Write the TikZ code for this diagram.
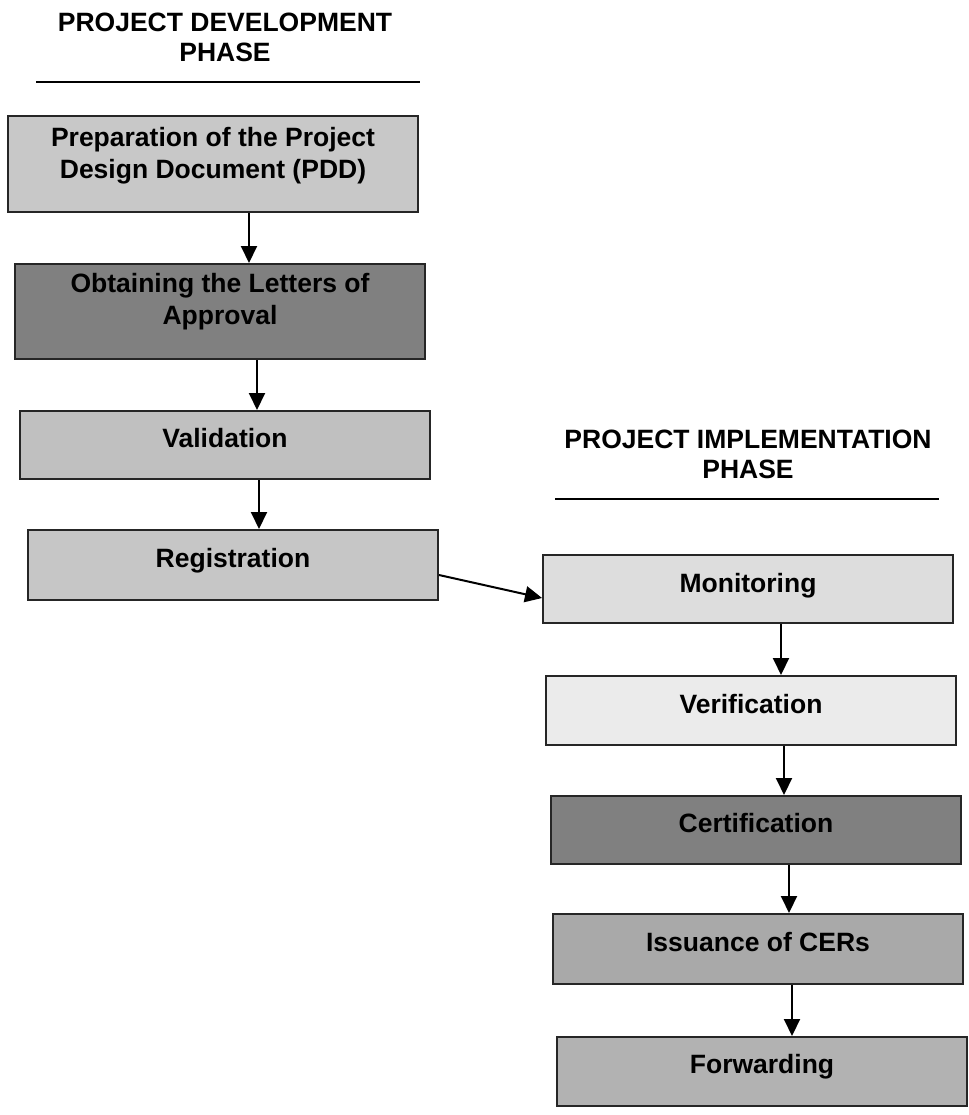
\documentclass[tikz,border=0pt]{standalone}
\usepackage{fontspec}
\setmainfont{Liberation Sans}
\usetikzlibrary{arrows.meta}
\newcommand\mydp[1]{\rule[-#1]{0pt}{#1}}
\definecolor{cpdd}{HTML}{C8C8C8}
\definecolor{cdark}{HTML}{808080}
\definecolor{cval}{HTML}{C0C0C0}
\definecolor{creg}{HTML}{C6C6C6}
\definecolor{cmon}{HTML}{DDDDDD}
\definecolor{cver}{HTML}{EBEBEB}
\definecolor{ciss}{HTML}{A9A9A9}
\definecolor{cfwd}{HTML}{B2B2B2}
\begin{document}
\begin{tikzpicture}[x=1pt,y=-1pt,
  box/.style={draw=black!85, line width=2pt, minimum width=410pt, inner sep=0pt, align=center, font=\bfseries\fontsize{26.5}{32}\selectfont},
  title/.style={align=center, font=\bfseries\fontsize{26.5}{30}\selectfont, inner sep=0pt},
  arr/.style={line width=2pt, -{Triangle[length=17pt,width=16pt]}},
  hrule/.style={line width=2pt}]
\useasboundingbox[fill=white] (0,0) rectangle (968,1115);

% titles
\node[title] (t1) at (225,37) {PROJECT DEVELOPMENT\\PHASE};
\coordinate (r1a) at (36,82);
\coordinate (r1b) at (420,82);
\draw[hrule] (r1a) -- (r1b);
\node[title] (t2) at (748,454.5) {PROJECT IMPLEMENTATION\\PHASE};
\coordinate (r2a) at (555,499);
\coordinate (r2b) at (939,499);
\draw[hrule] (r2a) -- (r2b);

% development phase
\node[box, fill=cpdd, minimum height=96pt] (pdd) at (213,164) {Preparation of the Project\\Design Document (PDD)\mydp{22pt}};
\node[box, fill=cdark, minimum height=95pt] (appr) at (220,311.5) {Obtaining the Letters of\\Approval\mydp{25pt}};
\node[box, fill=cval, minimum height=68pt] (val) at (225,445) {Validation\mydp{14pt}};
\node[box, fill=creg, minimum height=70pt] (reg) at (233,565) {Registration\mydp{14pt}};

% implementation phase
\node[box, fill=cmon, minimum height=68pt] (mon) at (748,589) {Monitoring\mydp{13pt}};
\node[box, fill=cver, minimum height=69pt] (ver) at (751,710.5) {Verification\mydp{13pt}};
\node[box, fill=cdark, minimum height=68pt] (cert) at (756,830) {Certification\mydp{15pt}};
\node[box, fill=ciss, minimum height=70pt] (iss) at (758,949) {Issuance of CERs\mydp{14pt}};
\node[box, fill=cfwd, minimum height=69pt] (fwd) at (762,1071.5) {Forwarding\mydp{16pt}};

% arrows
\draw[arr] ([xshift=36pt]pdd.south) -- ([xshift=36pt]pdd.south |- appr.north);
\draw[arr] ([xshift=37pt]appr.south) -- ([xshift=37pt]appr.south |- val.north);
\draw[arr] ([xshift=34pt]val.south) -- ([xshift=34pt]val.south |- reg.north);
\draw[arr] ([yshift=-10pt]reg.east) -- ([yshift=-9pt]mon.west);
\draw[arr] ([xshift=33pt]mon.south) -- ([xshift=33pt]mon.south |- ver.north);
\draw[arr] ([xshift=33pt]ver.south) -- ([xshift=33pt]ver.south |- cert.north);
\draw[arr] ([xshift=33pt]cert.south) -- ([xshift=33pt]cert.south |- iss.north);
\draw[arr] ([xshift=34pt]iss.south) -- ([xshift=34pt]iss.south |- fwd.north);
\end{tikzpicture}
\end{document}
